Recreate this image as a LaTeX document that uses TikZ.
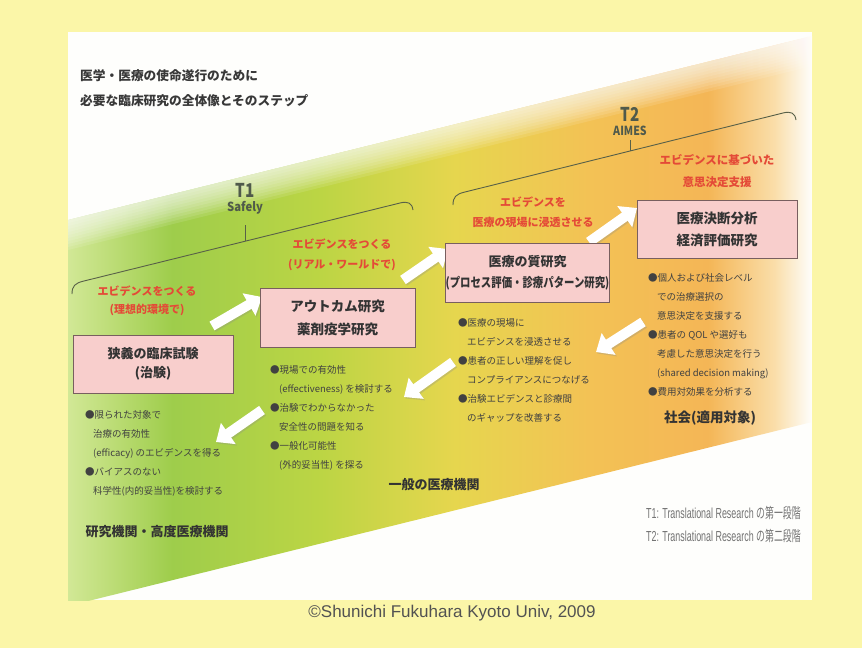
\documentclass[tikz,border=0pt]{standalone}
\usepackage{fontspec}
\usepackage{graphicx}
\setmainfont{Noto Sans CJK JP}
\newfontfamily\lsans{Liberation Sans}
\usetikzlibrary{arrows.meta}

\definecolor{outerY}{RGB}{251,246,168}
\definecolor{panelW}{RGB}{254,254,252}
\definecolor{g0}{RGB}{210,232,150}
\definecolor{g1}{RGB}{158,205,75}
\definecolor{g2}{RGB}{188,213,68}
\definecolor{g3}{RGB}{230,214,78}
\definecolor{g4}{RGB}{243,194,85}
\definecolor{g5}{RGB}{244,182,86}
\definecolor{g6}{RGB}{250,222,170}
\definecolor{boxpink}{RGB}{248,206,204}
\definecolor{boxedge}{RGB}{120,95,95}
\definecolor{redtxt}{RGB}{228,74,55}
\definecolor{bodytxt}{RGB}{65,65,65}
\definecolor{brk}{RGB}{88,96,72}
\definecolor{tlab}{RGB}{80,90,75}
\definecolor{foottxt}{RGB}{115,115,115}

\pgfdeclarehorizontalshading{band}{100bp}{color(0bp)=(g0); color(25bp)=(g0); color(32bp)=(g1); color(42bp)=(g2); color(51bp)=(g3); color(60bp)=(g4); color(68bp)=(g5); color(72.5bp)=(g6); color(75bp)=(panelW); color(100bp)=(panelW)}

\begin{document}
\begin{tikzpicture}[x=1pt,y=-1pt,
  pbox/.style={draw=boxedge, line width=0.9pt, fill=boxpink, align=center, inner sep=0pt, font=\fontsize{13}{21}\selectfont\bfseries, text=black!80},
  redlab/.style={text=redtxt, align=center, inner sep=0pt, font=\fontsize{11}{20}\selectfont\bfseries},
  blist/.style={text=bodytxt, align=left, anchor=north west, inner sep=0pt, font=\fontsize{9.5}{19}\selectfont},
  placelab/.style={text=black!80, inner sep=0pt, font=\fontsize{13}{16}\selectfont\bfseries},
  titlelab/.style={text=black!78, anchor=west, inner sep=0pt, font=\fontsize{12.7}{16}\selectfont\bfseries},
  tbig/.style={text=tlab, inner sep=0pt, font=\fontsize{19}{19}\selectfont\bfseries},
  tsmall/.style={text=tlab, inner sep=0pt, font=\fontsize{12.5}{14}\selectfont\bfseries},
  foot/.style={text=foottxt, anchor=west, inner sep=0pt, font=\fontsize{14.5}{16}\selectfont},
  brkt/.style={draw=brk, line width=0.9pt},
  fat/.style={draw=white, line width=10pt, -{Triangle[length=15pt,width=25pt]}},
  fatsh/.style={draw=black!45, opacity=0.3, line width=10pt, -{Triangle[length=15pt,width=25pt]}},
]
\useasboundingbox (0,0) rectangle (862,648);
\fill[outerY] (0,0) rectangle (862,648);
\fill[panelW] (68,32) rectangle (812,600);

\begin{scope}
\clip (68,32) rectangle (812,600);
\shade[shading=band] (68,220) -- (812,36) -- (812,422) -- (68,606) -- cycle;
\foreach \d in {3,6,...,30}
  \fill[white,opacity=0.11] (68,220) -- (812,36) -- (812,36+\d) -- (68,220+\d) -- cycle;
\end{scope}

% title
\node[titlelab] (title1) at (80,76) {医学・医療の使命遂行のために};
\node[titlelab] (title2) at (80,101) {必要な臨床研究の全体像とそのステップ};

% T1 bracket
\coordinate (b1a) at (72,294);
\coordinate (b1b) at (84,281);
\coordinate (b1c) at (400,203);
\coordinate (b1d) at (413,210);
\coordinate (b1t) at (245,241);
\coordinate (b1u) at (245,225);
\draw[brkt] (b1a) .. controls (72,286) and (75,283) .. (b1b) -- (b1c) .. controls (408,201) and (412,203) .. (b1d);
\draw[brkt] (b1t) -- (b1u);
\node[tbig] (t1) at (245,190) {\scalebox{0.8}[1]{T1}};
\node[tsmall] (safely) at (245,208) {\scalebox{0.9}[1]{Safely}};

% T2 bracket
\coordinate (b2a) at (453,205);
\coordinate (b2b) at (465,192);
\coordinate (b2c) at (783,113);
\coordinate (b2d) at (796,120);
\coordinate (b2t) at (630,151);
\coordinate (b2u) at (630,140);
\draw[brkt] (b2a) .. controls (453,197) and (456,194) .. (b2b) -- (b2c) .. controls (791,111) and (795,113) .. (b2d);
\draw[brkt] (b2t) -- (b2u);
\node[tbig] (t2) at (630,114) {\scalebox{0.8}[1]{T2}};
\node[tsmall] (aimes) at (630,131) {\scalebox{0.85}[1]{AIMES}};

% red labels
\node[redlab, font=\fontsize{11}{18}\selectfont\bfseries] (ra) at (147,301) {エビデンスをつくる\\(理想的環境で)};
\node[redlab] (rb) at (342,255) {エビデンスをつくる\\(リアル・ワールドで)};
\node[redlab] (rc) at (533,212) {エビデンスを\\医療の現場に浸透させる};
\node[redlab, font=\fontsize{11.5}{22}\selectfont\bfseries] (rd) at (717,171) {エビデンスに基づいた\\意思決定支援};

% arrows
\coordinate (a1s) at (212,326); \coordinate (a1e) at (262,297);
\coordinate (a2s) at (403,280); \coordinate (a2e) at (448,249);
\coordinate (a3s) at (589,242); \coordinate (a3e) at (637,208);
\coordinate (a4s) at (643,322); \coordinate (a4e) at (596,352);
\coordinate (a5s) at (453,362); \coordinate (a5e) at (404,397);
\coordinate (a6s) at (262,410); \coordinate (a6e) at (216,442);
\foreach \s/\e in {a1s/a1e,a2s/a2e,a3s/a3e,a4s/a4e,a5s/a5e,a6s/a6e}{
  \draw[fatsh] ([shift={(1.2,1.5)}]\s) -- ([shift={(1.2,1.5)}]\e);
  \draw[fat] (\s) -- (\e);
}

% boxes
\node[pbox, minimum width=160pt, minimum height=58pt, font=\fontsize{13}{19}\selectfont\bfseries] (A) at (153,364) {狭義の臨床試験\\(治験)};
\node[pbox, minimum width=155pt, minimum height=59pt, font=\fontsize{13.5}{23}\selectfont\bfseries] (B) at (337.5,317.5) {アウトカム研究\\薬剤疫学研究};
\node[pbox, minimum width=159pt, minimum height=59pt] (C) at (527.5,272.5) {医療の質研究\\\scalebox{0.8}[1]{(プロセス評価・診療パターン研究)}};
\node[pbox, minimum width=160pt, minimum height=58pt, font=\fontsize{13.5}{22}\selectfont\bfseries] (D) at (717,229) {医療決断分析\\経済評価研究};

% bullet lists
\node[blist] (la) at (85,410) {●限られた対象で\\\hspace*{8pt}治療の有効性\\\hspace*{8pt}(efficacy) のエビデンスを得る\\●バイアスのない\\\hspace*{8pt}科学性(内的妥当性)を検討する};
\node[blist] (lb) at (270,365) {●現場での有効性\\\hspace*{9pt}(effectiveness) を検討する\\●治験でわからなかった\\\hspace*{9pt}安全性の問題を知る\\●一般化可能性\\\hspace*{9pt}(外的妥当性) を探る};
\node[blist] (lc) at (458,318) {●医療の現場に\\\hspace*{9pt}エビデンスを浸透させる\\●患者の正しい理解を促し\\\hspace*{9pt}コンプライアンスにつなげる\\●治験エビデンスと診療間\\\hspace*{9pt}のギャップを改善する};
\node[blist] (ld) at (648,273) {●個人および社会レベル\\\hspace*{9pt}での治療選択の\\\hspace*{9pt}意思決定を支援する\\●患者の QOL や選好も\\\hspace*{9pt}考慮した意思決定を行う\\\hspace*{9pt}(shared decision making)\\●費用対効果を分析する};

% place labels
\node[placelab] (pa) at (157,532) {研究機関・高度医療機関};
\node[placelab] (pb) at (434,485) {一般の医療機関};
\node[placelab, font=\fontsize{13.5}{16}\selectfont\bfseries] (pd) at (710,418) {社会(適用対象)};

% footnotes
\node[foot] (f1) at (646,513) {\scalebox{0.615}[1]{{\lsans T1: Translational Research }の第一段階}};
\node[foot] (f2) at (646,536) {\scalebox{0.615}[1]{{\lsans T2: Translational Research }の第二段階}};

% copyright
\node[text=black!68, inner sep=0pt, font=\fontsize{17}{19}\selectfont\lsans] (copy) at (452,613) {©Shunichi Fukuhara Kyoto Univ, 2009};
\end{tikzpicture}
\end{document}
